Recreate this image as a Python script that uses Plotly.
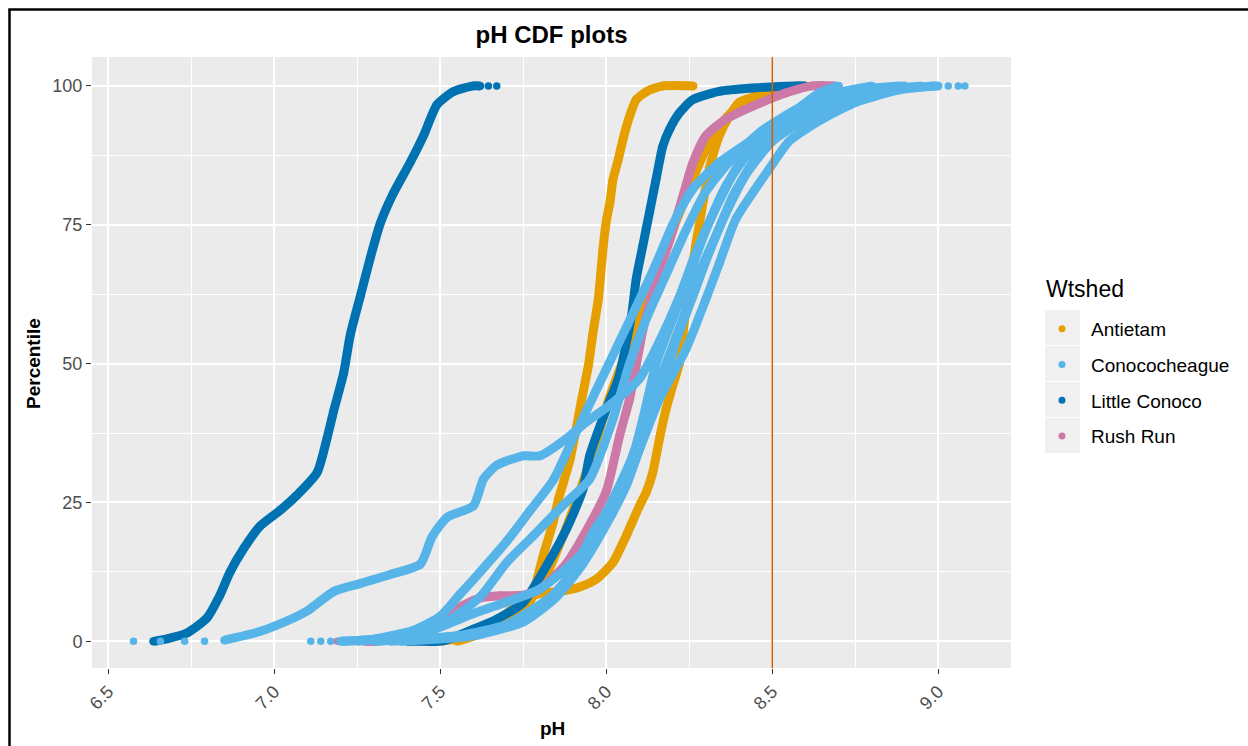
import plotly.graph_objects as go

# ---------------- data ----------------
series_names = ["Antietam", "Conococheague", "Little Conoco", "Rush Run"]
series_colors = ["#E69F00", "#56B4E9", "#0072B2", "#CC79A7"]
legend_title = "Wtshed"
threshold_ph = 8.5

# Antietam sites
ant1_ph = [7.45, 7.55, 7.63, 7.70, 7.74, 7.77, 7.81, 7.84, 7.856, 7.871, 7.891, 7.911, 7.926, 7.946,
           7.96, 7.976, 7.991, 8.001, 8.011, 8.02, 8.036, 8.05, 8.07, 8.09, 8.122, 8.17, 8.262]
ant1_pct = [0, 0.4, 2.2, 3.4, 5.2, 7.0, 15.4, 21.4, 25.6, 28.6, 32.8, 38.8, 43.6, 49.6,
            55.6, 61.6, 71.2, 76.0, 79.0, 83.1, 86.7, 90.3, 94.5, 97.5, 99.0, 100, 100]
ant2_ph = [7.50, 7.62, 7.70, 7.75, 7.80, 7.86, 7.92, 7.97, 8.02, 8.06, 8.10, 8.12, 8.14, 8.16, 8.18,
           8.20, 8.22, 8.24, 8.26, 8.28, 8.31, 8.34, 8.37, 8.40, 8.52, 8.60]
ant2_pct = [0, 2, 5, 7.5, 8.6, 9.0, 9.8, 11.2, 14.2, 19.0, 24.4, 26.8, 30.4, 36.4, 41.8,
            46, 50, 60, 68, 75, 85, 91, 94.5, 97, 99.3, 100]
ant3_ph = [7.55, 7.65, 7.75, 7.82, 7.87, 7.92, 7.97, 8.01, 8.06, 8.11, 8.16, 8.20, 8.24, 8.28,
           8.33, 8.40, 8.50, 8.58]
ant3_pct = [0, 2, 6, 12, 19, 27, 36, 44, 52, 60, 67, 74, 80, 86, 92, 96.5, 99, 100]

# Little Conoco sites
lc1_ph = [6.636, 6.68, 6.737, 6.797, 6.837, 6.867, 6.908, 6.958, 7.018, 7.068, 7.129, 7.159, 7.179,
          7.209, 7.229, 7.259, 7.289, 7.319, 7.359, 7.410, 7.450, 7.490, 7.540, 7.600, 7.620]
lc1_pct = [0, 0.5, 1.5, 4.2, 8.4, 12.5, 16.7, 20.8, 23.6, 26.3, 30.4, 36.6, 41.5,
           48.3, 55.2, 62.1, 69.0, 75.2, 80.7, 86.3, 91.1, 96.6, 99.0, 100, 100]
lc1_dots_ph = [7.645, 7.67]
lc1_dots_pct = [100, 100]
lc2_ph = [7.40, 7.44, 7.51, 7.60, 7.67, 7.75, 7.82, 7.88, 7.93, 7.95, 8.00, 8.036, 8.076, 8.09, 8.11,
          8.13, 8.15, 8.17, 8.19, 8.22, 8.26, 8.34, 8.44, 8.57, 8.60]
lc2_pct = [0, 0, 0.1, 2.2, 4.0, 7.0, 13.6, 20.2, 27.4, 33.4, 41.8, 47.2, 58.6, 65.2, 71.2,
           77.2, 83.2, 89.1, 92.1, 95.1, 97.5, 99.0, 99.6, 100, 100]
lc2_dots_ph = [7.26]
lc2_dots_pct = [0]

# Rush Run site
rr_ph = [7.27, 7.30, 7.35, 7.42, 7.47, 7.52, 7.57, 7.62, 7.68, 7.75, 7.80, 7.88, 7.95, 8.00, 8.04,
         8.07, 8.09, 8.11, 8.15, 8.19, 8.23, 8.26, 8.30, 8.36, 8.44, 8.54, 8.62, 8.69]
rr_pct = [0, 0, 0.3, 1.0, 2.5, 4.5, 6.5, 7.8, 8.2, 8.3, 9.4, 14.0, 21.0, 27.0, 37.0,
          43.6, 49.6, 56.0, 65.0, 72.0, 80.0, 86.0, 91.0, 94.0, 96.3, 98.7, 100, 100]
rr_dots_ph = [7.19, 7.21, 7.23]
rr_dots_pct = [0, 0, 0]

# Conococheague sites
cc1_ph = [6.85, 6.958, 7.058, 7.10, 7.18, 7.259, 7.359, 7.44, 7.475, 7.52, 7.60, 7.63, 7.67, 7.75,
          7.80, 7.88, 7.94, 8.01, 8.10, 8.16, 8.22, 8.27, 8.33, 8.40, 8.48, 8.58, 8.70, 8.82, 8.90]
cc1_pct = [0.2, 1.8, 4.2, 5.5, 9.0, 10.4, 12.2, 13.9, 18.8, 22.3, 24.4, 29.2, 31.7, 33.4,
           33.4, 36.5, 39.5, 42.5, 47.3, 54, 62, 70, 78, 86, 91.5, 95.5, 98.5, 99.7, 100]
cc1_dots_ph = [6.576, 6.657, 6.73, 6.79]
cc1_dots_pct = [0, 0, 0, 0]
cc2_ph = [7.20, 7.30, 7.42, 7.50, 7.56, 7.62, 7.70, 7.77, 7.84, 7.90, 7.98, 8.04, 8.10, 8.15,
          8.20, 8.26, 8.34, 8.44, 8.56, 8.64, 8.70]
cc2_pct = [0, 0.4, 2, 4.5, 8.5, 12.5, 18, 23.5, 29, 36.5, 46.5, 54, 61.5, 68,
           75, 81.4, 86.2, 90.3, 95.1, 98.7, 100]
cc2_dots_ph = [7.11, 7.14, 7.17]
cc2_dots_pct = [0, 0, 0]
cc3_ph = [7.20, 7.40, 7.52, 7.62, 7.70, 7.78, 7.87, 7.95, 8.02, 8.07, 8.12, 8.18, 8.24, 8.30,
          8.38, 8.47, 8.58, 8.70, 8.80]
cc3_pct = [0, 1, 3.5, 8, 14.2, 19, 24.5, 29.2, 40, 50, 58, 66, 74, 81, 87, 92, 96, 98.8, 100]
cc4_ph = [7.25, 7.45, 7.60, 7.72, 7.80, 7.92, 8.00, 8.06, 8.11, 8.15, 8.20, 8.25, 8.30, 8.36,
          8.43, 8.52, 8.62, 8.75, 8.88]
cc4_pct = [0, 1.5, 5, 7.5, 9.4, 15.4, 23, 29.2, 40, 50, 58, 66, 74, 82, 88, 93, 96.5, 99, 100]
cc5_ph = [7.30, 7.55, 7.70, 7.80, 7.88, 7.95, 8.00, 8.07, 8.13, 8.18, 8.23, 8.27, 8.33, 8.38,
          8.45, 8.53, 8.62, 8.75, 8.95]
cc5_pct = [0, 1, 3, 6, 11.2, 18, 23.2, 32, 42, 50, 58, 65, 73, 80, 87, 92, 95.5, 98.5, 100]
cc6_ph = [7.38, 7.60, 7.75, 7.85, 7.93, 8.00, 8.06, 8.12, 8.17, 8.21, 8.26, 8.31, 8.36, 8.42,
          8.50, 8.60, 8.72, 8.85, 9.00]
cc6_pct = [0, 1, 3.5, 8, 14, 21, 28, 38, 46, 54, 62, 70, 77, 84, 90, 94, 97.5, 99.4, 100]
cc7_ph = [7.35, 7.56, 7.70, 7.85, 7.91, 7.96, 8.04, 8.10, 8.16, 8.24, 8.30, 8.34, 8.39, 8.49,
          8.55, 8.65, 8.75, 8.875, 8.95, 8.99]
cc7_pct = [0, 1, 3, 8.8, 13.6, 19.6, 26.8, 34.6, 43.6, 52.6, 61.6, 68, 76, 85,
           90, 94, 97, 99.2, 99.8, 100]
cc7_dots_ph = [9.03, 9.06, 9.08]
cc7_dots_pct = [100, 100, 100]

# ---------------- figure ----------------
W, H = 1248, 746
ML, MR, MT, MB = 92, 237, 57, 78
PW, PH = W - ML - MR, H - MT - MB


def px_x(px):
    return (px - ML) / PW


def px_y(py):
    return (H - MB - py) / PH


FONT = "Liberation Sans, Arial, sans-serif"
LW = 9
MS = 8.5
DOT = 7.5

fig = go.Figure()

# legend entries (dots only)
for nm, col in zip(series_names, series_colors):
    fig.add_trace(go.Scatter(x=[None], y=[None], mode="markers", name=nm, legendgroup=nm,
                             marker=dict(color=col, size=7), showlegend=True))


def curve(ph, pct, name, color):
    fig.add_trace(go.Scatter(x=ph, y=pct, mode="lines+markers", legendgroup=name, name=name,
                             showlegend=False,
                             line=dict(color=color, width=LW, shape="spline", smoothing=0.6),
                             marker=dict(color=color, size=MS), hoverinfo="x+y+name"))


def dots(ph, pct, name, color):
    fig.add_trace(go.Scatter(x=ph, y=pct, mode="markers", legendgroup=name, name=name,
                             showlegend=False, marker=dict(color=color, size=DOT),
                             hoverinfo="x+y+name"))


cA, cC, cL, cR = series_colors
nA, nC, nL, nR = series_names

curve(ant1_ph, ant1_pct, nA, cA)
curve(ant3_ph, ant3_pct, nA, cA)
curve(ant2_ph, ant2_pct, nA, cA)

curve(lc1_ph, lc1_pct, nL, cL)
dots(lc1_dots_ph, lc1_dots_pct, nL, cL)
curve(lc2_ph, lc2_pct, nL, cL)
dots(lc2_dots_ph, lc2_dots_pct, nL, cL)

curve(rr_ph, rr_pct, nR, cR)
dots(rr_dots_ph, rr_dots_pct, nR, cR)

curve(cc1_ph, cc1_pct, nC, cC)
dots(cc1_dots_ph, cc1_dots_pct, nC, cC)
curve(cc2_ph, cc2_pct, nC, cC)
dots(cc2_dots_ph, cc2_dots_pct, nC, cC)
curve(cc3_ph, cc3_pct, nC, cC)
curve(cc4_ph, cc4_pct, nC, cC)
curve(cc5_ph, cc5_pct, nC, cC)
curve(cc6_ph, cc6_pct, nC, cC)
curve(cc7_ph, cc7_pct, nC, cC)
dots(cc7_dots_ph, cc7_dots_pct, nC, cC)

shapes = []
# vertical reference line
shapes.append(dict(type="line", xref="x", yref="paper", x0=threshold_ph, x1=threshold_ph,
                   y0=0, y1=1, line=dict(color="#D55E00", width=1.5), layer="above"))
# legend key backgrounds
for k in range(4):
    top = 310 + 36 * k
    shapes.append(dict(type="rect", xref="paper", yref="paper",
                       x0=px_x(1045), x1=px_x(1080), y0=px_y(top + 35), y1=px_y(top),
                       fillcolor="#F0F0F0", line=dict(width=0), layer="below"))
# outer frame (left and top edges visible)
shapes.append(dict(type="line", xref="paper", yref="paper", x0=px_x(9.5), x1=px_x(9.5),
                   y0=px_y(9.5), y1=px_y(760), line=dict(color="black", width=2.5)))
shapes.append(dict(type="line", xref="paper", yref="paper", x0=px_x(8.3), x1=px_x(1260),
                   y0=px_y(9.5), y1=px_y(9.5), line=dict(color="black", width=2.5)))

axis_common = dict(showline=False, zeroline=False, gridcolor="white", gridwidth=1.8,
                   ticks="outside", ticklen=5, tickwidth=1.2, tickcolor="#333333",
                   tickfont=dict(family=FONT, size=18, color="#4D4D4D"))

fig.update_layout(
    width=W, height=H,
    margin=dict(l=ML, r=MR, t=MT, b=MB, autoexpand=False),
    paper_bgcolor="white", plot_bgcolor="#EBEBEB",
    font=dict(family=FONT, color="black"),
    title=dict(text="<b>pH CDF plots</b>", x=0.5, xref="paper", xanchor="center",
               y=1 - 35 / H, yref="container", yanchor="middle",
               font=dict(family=FONT, size=24, color="black")),
    xaxis=dict(range=[6.451, 9.219], tick0=6.5, dtick=0.5, tickformat=".1f", tickangle=-45,
               minor=dict(dtick=0.25, tick0=6.25, showgrid=True, gridcolor="white", gridwidth=0.9),
               **axis_common),
    yaxis=dict(range=[-4.8, 105.2], tick0=0, dtick=25,
               minor=dict(dtick=12.5, tick0=0, showgrid=True, gridcolor="white", gridwidth=0.9),
               **axis_common),
    showlegend=True,
    legend=dict(x=px_x(1033), xanchor="left", y=px_y(310), yanchor="top",
                bgcolor="rgba(0,0,0,0)", borderwidth=0, itemwidth=48,
                traceorder="grouped", tracegroupgap=8,
                font=dict(family=FONT, size=19, color="black")),
    shapes=shapes,
    annotations=[
        dict(text=legend_title, xref="paper", yref="paper", x=px_x(1044), y=px_y(289),
             showarrow=False, xanchor="left", yanchor="middle",
             font=dict(family=FONT, size=23, color="black")),
        dict(text="<b>pH</b>", xref="paper", yref="paper", x=px_x(552), y=px_y(728),
             showarrow=False, xanchor="center", yanchor="middle",
             font=dict(family=FONT, size=19, color="black")),
        dict(text="<b>Percentile</b>", xref="paper", yref="paper", x=px_x(33), y=px_y(364),
             showarrow=False, xanchor="center", yanchor="middle", textangle=-90,
             font=dict(family=FONT, size=19, color="black")),
    ],
)

fig.write_html("out.html")
